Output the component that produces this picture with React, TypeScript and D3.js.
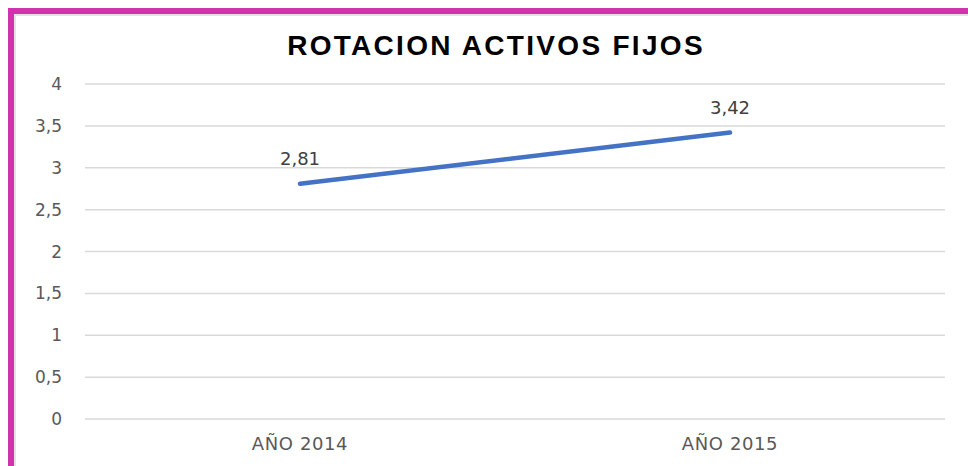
import React, { useEffect, useRef } from 'react';
import * as d3 from 'd3';

const title = 'ROTACION ACTIVOS FIJOS';
const years = ['AÑO 2014', 'AÑO 2015'];
const rotacion = [2.81, 3.42];
const yTicks = [0, 0.5, 1, 1.5, 2, 2.5, 3, 3.5, 4];

const W = 968;
const H = 466;

export default function App() {
  const ref = useRef<SVGSVGElement | null>(null);

  useEffect(() => {
    const svg = d3.select(ref.current);
    svg.selectAll('*').remove();

    const margin = { top: 84, right: 23, bottom: 47, left: 85 };
    const w = W - margin.left - margin.right;

    // frame
    svg.append('rect').attr('width', W).attr('height', H).attr('fill', '#ffffff');
    svg.append('rect').attr('x', 8).attr('y', 14).attr('width', W - 8).attr('height', 2).attr('fill', '#e4e4e4');
    svg.append('rect').attr('x', 14).attr('y', 14).attr('width', 2).attr('height', H - 14).attr('fill', '#e4e4e4');
    svg.append('rect').attr('x', 8).attr('y', 8).attr('width', W - 8).attr('height', 6).attr('fill', '#cf33ad');
    svg.append('rect').attr('x', 8).attr('y', 8).attr('width', 6).attr('height', H - 8).attr('fill', '#cf33ad');

    const x = d3.scaleBand().domain(years).range([margin.left, margin.left + w]);
    const y = d3.scaleLinear().domain([0, 4]).range([419, 84]);

    const font = '"DejaVu Sans", sans-serif';

    // grid
    svg.append('g')
      .selectAll('line')
      .data(yTicks)
      .enter()
      .append('line')
      .attr('x1', margin.left)
      .attr('x2', margin.left + w)
      .attr('y1', d => y(d))
      .attr('y2', d => y(d))
      .attr('stroke', '#d9d9d9')
      .attr('stroke-width', 1.5);

    // y labels
    svg.append('g')
      .selectAll('text')
      .data(yTicks)
      .enter()
      .append('text')
      .attr('x', 62)
      .attr('y', d => y(d))
      .attr('dy', '0.36em')
      .attr('text-anchor', 'end')
      .style('font-family', font)
      .style('font-size', '17px')
      .attr('fill', '#595959')
      .text(d => String(d).replace('.', ','));

    // x labels
    svg.append('g')
      .selectAll('text')
      .data(years)
      .enter()
      .append('text')
      .attr('x', d => (x(d) as number) + x.bandwidth() / 2)
      .attr('y', 450)
      .attr('text-anchor', 'middle')
      .style('font-family', font)
      .style('font-size', '18px')
      .style('letter-spacing', '0.6px')
      .attr('fill', '#595959')
      .text(d => d);

    // line
    const line = d3.line<number>()
      .x((d, i) => (x(years[i]) as number) + x.bandwidth() / 2)
      .y(d => y(d));

    svg.append('path')
      .datum(rotacion)
      .attr('d', line)
      .attr('fill', 'none')
      .attr('stroke', '#4472c4')
      .attr('stroke-width', 4.5)
      .attr('stroke-linecap', 'round');

    // data labels
    svg.append('g')
      .selectAll('text')
      .data(rotacion)
      .enter()
      .append('text')
      .attr('x', (d, i) => (x(years[i]) as number) + x.bandwidth() / 2)
      .attr('y', d => y(d) - 19)
      .attr('text-anchor', 'middle')
      .style('font-family', font)
      .style('font-size', '18px')
      .attr('fill', '#404040')
      .text(d => d.toFixed(2).replace('.', ','));

    // title
    svg.append('text')
      .attr('x', 496)
      .attr('y', 55)
      .attr('text-anchor', 'middle')
      .style('font-family', '"Liberation Sans", Arial, sans-serif')
      .style('font-size', '28px')
      .style('font-weight', 'bold')
      .style('letter-spacing', '2.3px')
      .attr('fill', '#000000')
      .text(title);
  }, []);

  return (
    <div style={{ position: 'absolute', left: 0, top: 0 }}>
      <svg ref={ref} width={W} height={H} style={{ display: 'block' }} />
    </div>
  );
}
